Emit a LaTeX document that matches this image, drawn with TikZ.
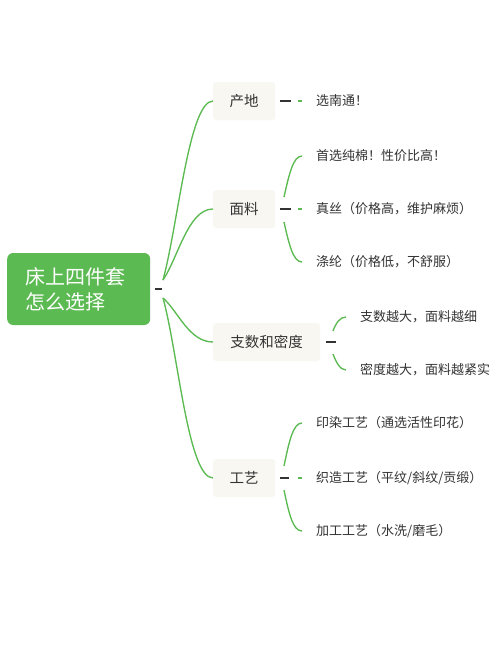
\documentclass[tikz,border=0pt]{standalone}
\usepackage{fontspec}
\newfontfamily\cjk{Noto Sans CJK SC}
\definecolor{mgreen}{RGB}{92,186,82}
\definecolor{txt}{RGB}{51,51,51}
\definecolor{boxbg}{RGB}{249,247,242}
\begin{document}
\begin{tikzpicture}[x=1pt,y=-1pt,
 rootbox/.style={fill=mgreen, rounded corners=6pt, text=white, font=\cjk\fontsize{20}{25}\selectfont, align=left, text width=107pt, inner xsep=18pt, minimum height=72pt, anchor=west},
 branch/.style={fill=boxbg, rounded corners=3pt, text=txt, font=\cjk\fontsize{14.5}{17}\selectfont, minimum height=38pt, anchor=west},
 leaf/.style={text=txt, font=\cjk\fontsize{13}{15}\selectfont, inner xsep=14pt, inner ysep=2pt, anchor=west},
 link/.style={draw=mgreen, line width=1.35pt},
 knob/.style={draw=txt, line width=1.3pt}]
\fill[white] (0,0) rectangle (500,653);
\useasboundingbox (0,0) rectangle (500,653);

\node[rootbox] (root) at (7,289) {床上四件套\\怎么选择};

\node[branch, minimum width=62pt] (cd) at (213,101) {产地};
\node[branch, minimum width=62pt] (ml) at (213,209) {面料};
\node[branch, minimum width=107pt] (zs) at (213,342) {支数和密度};
\node[branch, minimum width=62pt] (gy) at (213,478) {工艺};

\node[leaf] (cd1) at (302,101) {选南通！};
\node[leaf] (ml1) at (302,156) {首选纯棉！性价比高！};
\node[leaf] (ml2) at (302,209) {真丝（价格高，维护麻烦）};
\node[leaf] (ml3) at (302,262) {涤纶（价格低，不舒服）};
\node[leaf] (zs1) at (346,317) {支数越大，面料越细};
\node[leaf] (zs2) at (346,370) {密度越大，面料越紧实};
\node[leaf] (gy1) at (302,423) {印染工艺（通选活性印花）};
\node[leaf] (gy2) at (302,478) {织造工艺（平纹/斜纹/贡缎）};
\node[leaf] (gy3) at (302,531) {加工工艺（水洗/磨毛）};

% root connectors
\coordinate (rU) at (163,280);
\coordinate (rD) at (163,298);
\draw[knob] (155,289) -- (162,289);
\draw[link] (rU) .. controls +(15,-55) and +(-24,0) .. (cd.west);
\draw[link] (rU) .. controls +(15,-22) and +(-25,0) .. (ml.west);
\draw[link] (rD) .. controls +(15,13) and +(-24,0) .. (zs.west);
\draw[link] (rD) .. controls +(15,54) and +(-25,0) .. (gy.west);

% 产地
\draw[knob] (280,101) -- (291,101);
\draw[link] (298,101) -- (cd1.west);

% 面料
\draw[knob] (280,209) -- (291,209);
\draw[link] (298,209) -- (ml2.west);
\coordinate (mlU) at (284,197);
\coordinate (mlD) at (284,222);
\draw[link] (mlU) .. controls +(5,-22) and +(-9,0) .. (ml1.west);
\draw[link] (mlD) .. controls +(5,22) and +(-9,0) .. (ml3.west);

% 支数和密度
\draw[knob] (326,342) -- (336,342);
\coordinate (zsU) at (333,331);
\coordinate (zsD) at (333,354);
\draw[link] (zsU) .. controls +(3,-8) and +(-6,0) .. (zs1.west);
\draw[link] (zsD) .. controls +(3,8) and +(-6,0) .. (zs2.west);

% 工艺
\draw[knob] (280,478) -- (289,478);
\draw[link] (298,478) -- (gy2.west);
\coordinate (gyU) at (284,466);
\coordinate (gyD) at (284,490);
\draw[link] (gyU) .. controls +(5,-24) and +(-9,0) .. (gy1.west);
\draw[link] (gyD) .. controls +(5,24) and +(-9,0) .. (gy3.west);
\end{tikzpicture}
\end{document}
